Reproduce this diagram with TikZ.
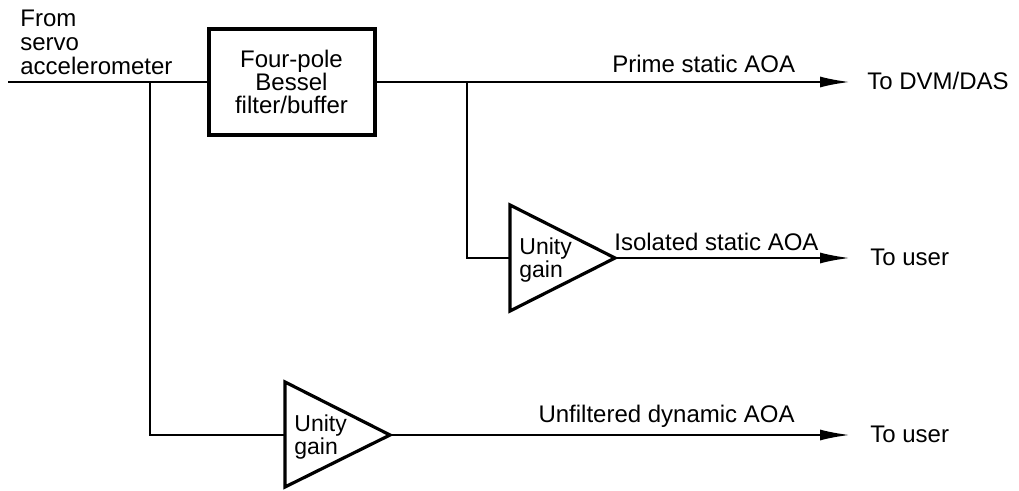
\documentclass[tikz,border=0pt]{standalone}
\usepackage{fontspec}
\setmainfont{Liberation Sans}
\usetikzlibrary{arrows.meta}
\begin{document}
\begin{tikzpicture}[x=0.5pt,y=-0.5pt,
  wire/.style={line width=1.1pt},
  sig/.style={wire,-{Latex[length=15pt,width=5.5pt]}},
  lbl/.style={font=\fontsize{12}{12}\selectfont, inner sep=0pt},
  amp/.style={line width=1.6pt, line join=miter},
  ampt/.style={font=\fontsize{11.5}{10}\selectfont, align=left, inner sep=0pt, anchor=west},
  blk/.style={draw, line width=2pt, minimum width=83pt, minimum height=53pt, inner sep=0pt, align=center, font=\fontsize{12}{11.5}\selectfont}]
\useasboundingbox (0,0) rectangle (1019,491);
% nodes and coordinates
\coordinate (src) at (8,82);
\node[blk] (filt) at (291.5,82) {Four-pole\\Bessel\\filter/buffer};
\coordinate (j1) at (150,82);
\coordinate (j2) at (467,82);
\coordinate (o1) at (850,82);
\coordinate (a1w) at (510,258);
\coordinate (a1e) at (615,258);
\coordinate (o2) at (850,258);
\coordinate (a2w) at (285,435);
\coordinate (a2e) at (390,435);
\coordinate (o3) at (850,435);
% amplifiers
\draw[amp] (510,205) -- (510,311) -- (a1e) -- cycle;
\draw[amp] (285,382) -- (285,487) -- (a2e) -- cycle;
\node[ampt] (g1) at (519,260) {Unity\\gain};
\node[ampt] (g2) at (294,437) {Unity\\gain};
% wires
\draw[wire] (src) -- (filt.west);
\draw[sig] (filt.east) -- (o1);
\draw[wire] (j1) |- (a2w);
\draw[wire] (j2) |- (a1w);
\draw[sig] (a1e) -- (o2);
\draw[sig] (a2e) -- (o3);
% labels
\node[lbl, align=left, anchor=south west, text depth=0pt] (srct) at (20,75) {From\\servo\\accelerometer};
\node[lbl, anchor=base west] (lp) at (612,73) {Prime static AOA};
\node[lbl, anchor=base west] (li) at (614,251) {Isolated static AOA};
\node[lbl, anchor=base east] (lu) at (795,423) {Unfiltered dynamic AOA};
\node[lbl, anchor=base west] (d1) at (867,90) {To DVM/DAS};
\node[lbl, anchor=base west] (d2) at (870,266) {To user};
\node[lbl, anchor=base west] (d3) at (870,443) {To user};
\end{tikzpicture}
\end{document}
